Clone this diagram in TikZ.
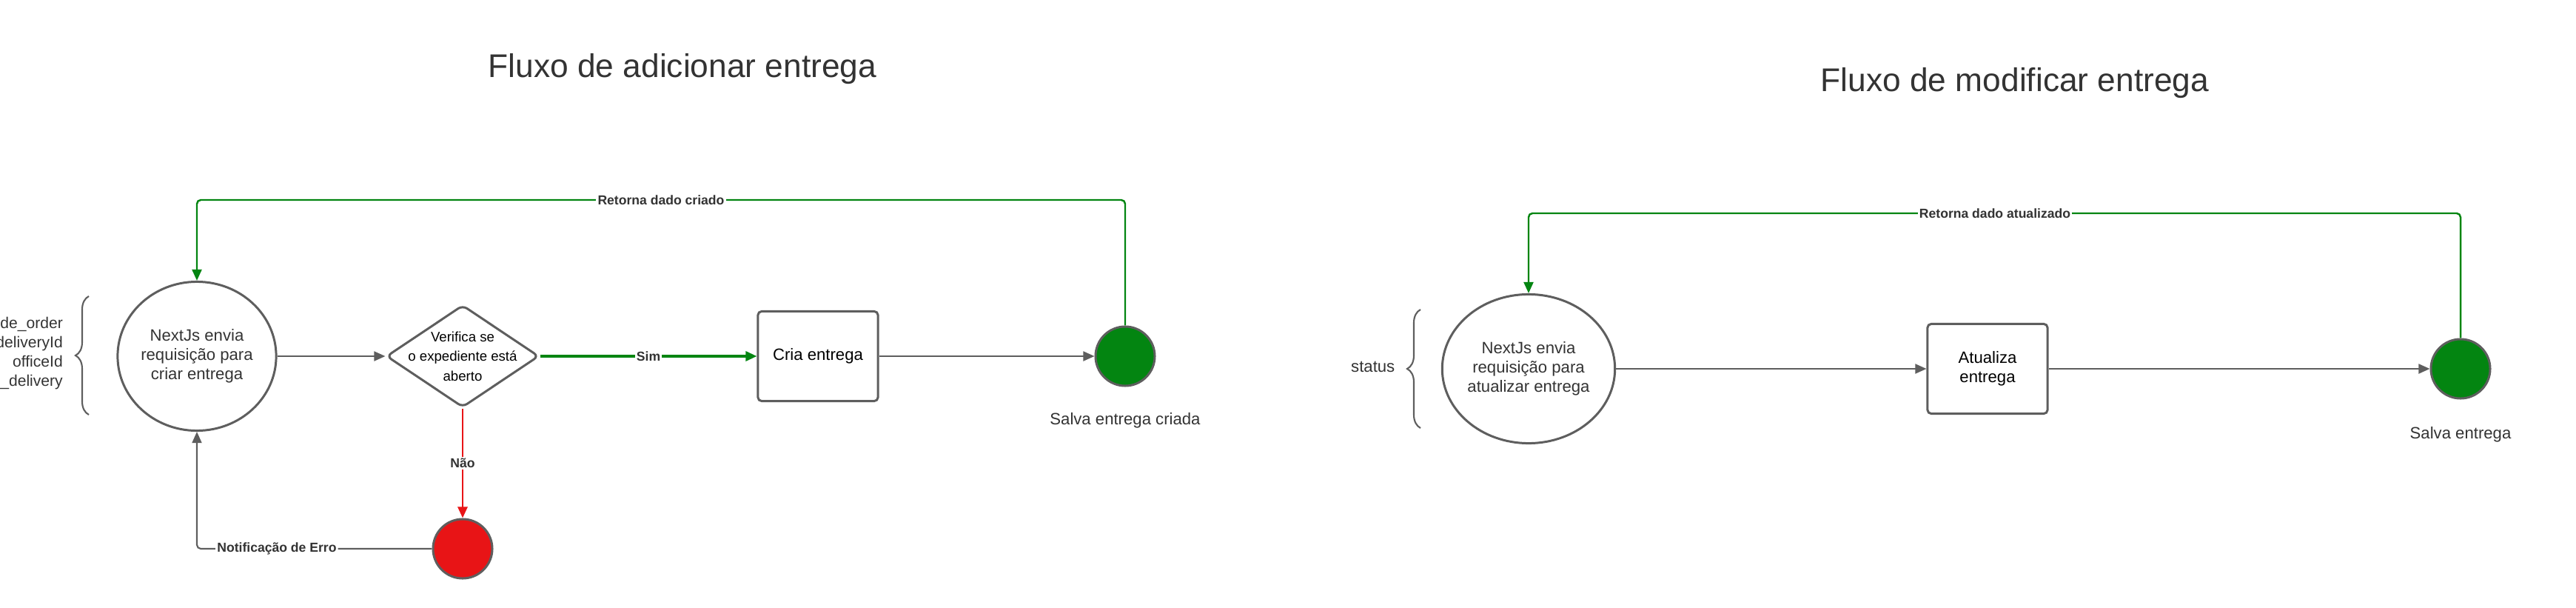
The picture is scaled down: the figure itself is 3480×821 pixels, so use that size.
\documentclass[tikz,border=0pt]{standalone}
\usepackage{fontspec}
\setmainfont{Liberation Sans}
\usepackage{xcolor}
\usetikzlibrary{calc,shapes,arrows.meta,positioning,decorations.pathreplacing}

\definecolor{edgegray}{HTML}{5E5E5E}
\definecolor{txtgray}{HTML}{333333}
\definecolor{okgreen}{RGB}{3,133,17}
\definecolor{errred}{RGB}{232,20,22}

\begin{document}
\begin{tikzpicture}[x=0.01cm,y=-0.01cm,
        every node/.style={font=\fontsize{6.3pt}{7.4pt}\selectfont,text=txtgray},
        reqnode/.style={ellipse,draw=edgegray,line width=0.85pt,minimum width=2.11cm,minimum height=2.01cm,align=center,inner sep=0pt},
        boxnode/.style={rectangle,rounded corners=1.4pt,draw=edgegray,line width=0.85pt,minimum width=1.62cm,minimum height=1.21cm,align=center,text=black},
        endnode/.style={circle,draw=edgegray,line width=0.85pt,minimum size=0.8cm,inner sep=0pt},
        flowlbl/.style={font=\bfseries\fontsize{5pt}{6pt}\selectfont,fill=white,inner sep=0.6pt},
        link/.style={draw=edgegray,line width=0.6pt,-{Triangle[length=4.3pt,width=3.7pt]}},
        title/.style={font=\fontsize{12.6pt}{15pt}\selectfont}]
        \useasboundingbox (0,0) rectangle (3480,821);

        %titles
        \node[title] (tadd) at (922,93) {Fluxo de adicionar entrega};
        \node[title] (tmod) at (2722,112) {Fluxo de modificar entrega};

        %nodes of the first flow
        \begin{scope}
            \node[align=right,anchor=east,inner sep=0pt,font=\fontsize{6pt}{7.4pt}\selectfont] (fields1) at (85.5,477) {de\_order\\deliveryId\\officeId\\\_delivery};
            \node[reqnode] (nxt1) at (266,481) {NextJs envia\\requisição para\\criar entrega};
            \node[diamond,draw=edgegray,line width=0.85pt,rounded corners=2pt,minimum width=2.06cm,minimum height=1.38cm,inner sep=0pt] (chk) at (625,481) {};
            \node[align=center,text=black,font=\fontsize{5.3pt}{7.5pt}\selectfont] (chktxt) at (chk) {Verifica se\\o expediente está\\aberto};
            \node[boxnode] (cria) at (1105,481) {Cria entrega};
            \node[endnode,fill=okgreen] (ok1) at (1520,481) {};
            \node[inner sep=0pt,below=0.34cm of ok1] (ok1txt) {Salva entrega criada};
            \node[endnode,fill=errred] (err) at (625,741) {};
            \coordinate (ret1) at (893,270);
        \end{scope}

        %nodes of the second flow
        \begin{scope}
            \node[align=right,anchor=east,inner sep=0pt] (fields2) at (1885,495) {status};
            \node[reqnode] (nxt2) at (2065,498) {NextJs envia\\requisição para\\atualizar entrega};
            \node[boxnode] (atu) at (2685,498) {Atualiza\\entrega};
            \node[endnode,fill=okgreen] (ok2) at (3324,498) {};
            \node[inner sep=0pt,below=0.36cm of ok2] (ok2txt) {Salva entrega};
            \coordinate (ret2) at (2695,288);
        \end{scope}

        %braces
        \draw[edgegray,line width=0.6pt,decorate,decoration={brace,amplitude=0.18cm}] (120,560) -- (120,400);
        \draw[edgegray,line width=0.6pt,decorate,decoration={brace,amplitude=0.18cm}] (1919,578) -- (1919,418);

        %connectors
        \draw[link] (nxt1) -- (chk);
        \draw[link,draw=okgreen,line width=0.95pt] (chk.east) -- node[flowlbl] {Sim} (cria.west);
        \draw[link,draw=errred,line width=0.85pt] (chk.south) -- node[flowlbl] {Não} (err.north);
        \draw[link] (cria) -- (ok1);
        \draw[link,rounded corners=1.5pt] (err.west) -| node[flowlbl,pos=0.33] {Notificação de Erro} (nxt1.south);
        \draw[link,draw=okgreen,line width=0.7pt,rounded corners=1.5pt] (ok1.north) |- (ret1) -| (nxt1.north);
        \node[flowlbl] at (ret1) {Retorna dado criado};

        \draw[link] (nxt2) -- (atu);
        \draw[link] (atu) -- (ok2);
        \draw[link,draw=okgreen,line width=0.7pt,rounded corners=1.5pt] (ok2.north) |- (ret2) -| (nxt2.north);
        \node[flowlbl] at (ret2) {Retorna dado atualizado};
\end{tikzpicture}
\end{document}
